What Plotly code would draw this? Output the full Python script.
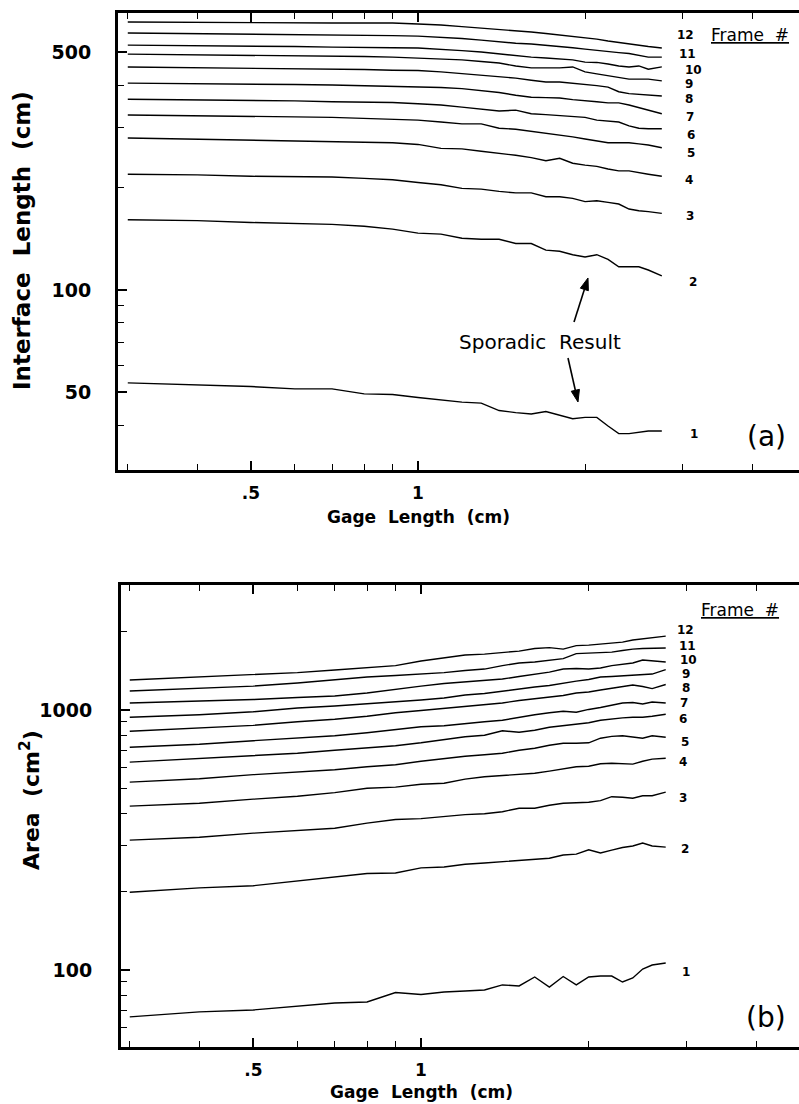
import numpy as np
import plotly.graph_objects as go

W, H = 799, 1104

# ---------------- data ----------------
gage_cm = [0.30, 0.40, 0.50, 0.60, 0.70, 0.80, 0.90, 1.00, 1.10, 1.20, 1.30, 1.40, 1.50,
           1.60, 1.70, 1.80, 1.90, 2.00, 2.10, 2.20, 2.30, 2.40, 2.50, 2.60, 2.75]

# (a) Interface length (cm), frames 1..12
len_f1 = [53.3, 52.6, 52.0, 51.2, 51.2, 49.5, 49.3, 48.3, 47.5, 46.8, 46.5, 44.2, 43.6,
          43.2, 43.9, 42.9, 41.8, 42.2, 42.2, 39.8, 37.8, 37.8, 38.2, 38.5, 38.5]
len_f2 = [161, 160, 158, 157, 156, 154, 151, 147, 146, 142, 141, 141, 137,
          137, 131, 130, 127, 125, 127, 123, 117, 117, 117, 114.5, 110]
len_f3 = [219, 218, 216, 216, 215, 213, 211, 207, 204, 199, 198, 195, 193,
          193, 188, 188, 186, 182, 183, 181, 179, 173, 171, 170, 168]
len_f4 = [280, 278, 276, 274, 273, 272, 271, 268, 261, 260, 256, 253, 249,
          245, 240, 244, 236, 233, 231, 227, 224, 224, 222, 219, 216]
len_f5 = [327, 326, 325, 323, 322, 320, 318, 316, 312, 308, 308, 299, 297,
          293, 288, 286, 282, 278, 275, 271, 271, 271, 269, 267, 262]
len_f6 = [364, 363, 362, 360, 358, 357, 356, 353, 350, 345, 341, 336, 338,
          330, 328, 326, 324, 322, 316, 314, 312, 304, 299, 298, 298]
len_f7 = [406, 405, 403, 402, 401, 399, 398, 397, 394, 391, 385, 381, 374,
          369, 368, 367, 363, 361, 358, 355, 355, 350, 344, 338, 330]
len_f8 = [453, 451, 450, 448, 446, 445, 443, 442, 438, 433, 429, 426, 420,
          414, 409, 409, 406, 403, 399, 395, 383, 378, 376, 374, 372]
len_f9 = [494, 492, 491, 489, 488, 486, 484, 481, 478, 475, 470, 465, 456,
          450, 450, 450, 453, 438, 432, 427, 423, 417, 417, 417, 412]
len_f10 = [525, 524, 522, 520, 518, 518, 516, 515, 511, 506, 501, 494, 488,
           484, 481, 478, 475, 468, 467, 462, 456, 453, 456, 446, 453]
len_f11 = [570, 568, 566, 564, 562, 562, 560, 558, 554, 549, 543, 536, 532,
           529, 525, 520, 516, 511, 506, 503, 499, 496, 491, 484, 484]
len_f12 = [614, 612, 610, 610, 610, 610, 610, 606, 602, 595, 589, 585, 581,
           574, 568, 562, 558, 551, 547, 540, 534, 529, 524, 520, 515]

# (b) Area (cm^2), frames 1..12
area_f1 = [66.0, 69.0, 70.2, 72.7, 74.7, 75.3, 81.9, 80.5, 82.3, 83.0, 83.8, 87.6, 86.8,
           94.0, 86.0, 94.4, 87.6, 94.0, 94.8, 94.8, 89.9, 93.2, 100.9, 104.5, 106.4]
area_f2 = [199, 207, 211, 220, 228, 235, 236, 247, 249, 255, 258, 261, 263,
           265, 269, 277, 279, 290, 282, 289, 296, 300, 308, 300, 297]
area_f3 = [316, 324, 336, 345, 351, 367, 379, 382, 389, 396, 399, 406, 419,
           419, 430, 438, 440, 442, 448, 464, 462, 458, 468, 468, 483]
area_f4 = [427, 438, 454, 466, 481, 500, 505, 518, 523, 542, 554, 561, 566,
           571, 582, 592, 605, 608, 621, 624, 621, 619, 635, 647, 652]
area_f5 = [528, 544, 564, 576, 589, 605, 616, 635, 652, 664, 673, 682, 700,
           713, 732, 745, 745, 748, 779, 792, 796, 786, 779, 796, 786]
area_f6 = [630, 652, 670, 682, 700, 713, 729, 748, 768, 789, 800, 832, 821,
           836, 858, 870, 881, 893, 913, 925, 933, 938, 938, 946, 963]
area_f7 = [719, 738, 762, 782, 796, 817, 839, 862, 870, 889, 901, 913, 938,
           959, 976, 989, 980, 1005, 1022, 1045, 1064, 1069, 1055, 1073, 1064]
area_f8 = [828, 851, 873, 901, 921, 946, 976, 996, 1013, 1032, 1050, 1064, 1088,
           1107, 1127, 1137, 1162, 1173, 1194, 1215, 1231, 1247, 1231, 1209, 1253]
area_f9 = [938, 959, 984, 1018, 1036, 1055, 1078, 1093, 1112, 1142, 1157, 1183, 1209,
           1226, 1242, 1270, 1292, 1310, 1339, 1345, 1351, 1363, 1369, 1375, 1431]
area_f10 = [1064, 1083, 1097, 1117, 1132, 1162, 1204, 1236, 1264, 1281, 1298, 1316, 1345,
            1369, 1399, 1437, 1444, 1437, 1450, 1482, 1502, 1516, 1556, 1549, 1529]
area_f11 = [1183, 1209, 1236, 1270, 1304, 1339, 1357, 1375, 1393, 1418, 1437, 1482, 1516,
            1529, 1556, 1577, 1648, 1656, 1656, 1670, 1693, 1715, 1723, 1723, 1731]
area_f12 = [1304, 1339, 1369, 1393, 1425, 1450, 1482, 1543, 1584, 1627, 1641, 1663, 1685,
            1723, 1738, 1715, 1769, 1777, 1793, 1801, 1825, 1858, 1874, 1891, 1924]

frame_names = ["1", "2", "3", "4", "5", "6", "7", "8", "9", "10", "11", "12"]

x_major_vals = [0.5, 1]
x_major_text = [".5", "1"]
x_minor_vals = [0.3, 0.4, 0.6, 0.7, 0.8, 0.9, 2, 3, 4]
ya_major_vals = [50, 100, 500]
ya_major_text = ["50", "100", "500"]
ya_minor_vals = [40, 60, 70, 80, 90, 200, 300, 400]
yb_major_vals = [100, 1000]
yb_major_text = ["100", "1000"]
yb_minor_vals = [60, 70, 80, 90, 200, 300, 400, 500, 600, 700, 800, 900, 2000]

interface_series = [len_f1, len_f2, len_f3, len_f4, len_f5, len_f6,
                    len_f7, len_f8, len_f9, len_f10, len_f11, len_f12]
area_series = [area_f1, area_f2, area_f3, area_f4, area_f5, area_f6,
               area_f7, area_f8, area_f9, area_f10, area_f11, area_f12]

# ---------------- layout helpers ----------------
def px(x):
    return x / W


def py(y):
    return 1 - y / H


fig = go.Figure()
line_style = dict(color="black", width=1.4)
for name, vals in zip(frame_names, interface_series):
    fig.add_trace(go.Scatter(x=gage_cm, y=vals, mode="lines", line=line_style,
                             name="Frame " + name, showlegend=False,
                             xaxis="x", yaxis="y", hoverinfo="skip"))
for name, vals in zip(frame_names, area_series):
    fig.add_trace(go.Scatter(x=gage_cm, y=vals, mode="lines", line=line_style,
                             name="Frame " + name, showlegend=False,
                             xaxis="x2", yaxis="y2", hoverinfo="skip"))

tick_font_x = dict(family="DejaVu Sans", size=17, color="black", weight="bold")


def xaxis_cfg(domain_left, rng, anchor):
    return dict(type="log", range=rng, domain=[domain_left, 1], anchor=anchor,
                showline=True, linewidth=3, linecolor="black", mirror="ticks",
                ticks="inside", ticklen=9, tickwidth=1.5, tickcolor="black",
                tickmode="array", tickvals=x_major_vals, ticktext=x_major_text,
                tickfont=tick_font_x, ticklabelstandoff=6,
                minor=dict(tickmode="array", tickvals=x_minor_vals, ticks="inside",
                           ticklen=6, tickwidth=1.2, tickcolor="black", showgrid=False),
                showgrid=False, zeroline=False, fixedrange=True)


def yaxis_cfg(domain, rng, anchor, majv, majt, minv, fsize, standoff):
    return dict(type="log", range=rng, domain=domain, anchor=anchor,
                showline=True, linewidth=3, linecolor="black", mirror=False,
                ticks="inside", ticklen=9, tickwidth=1.5, tickcolor="black",
                tickmode="array", tickvals=majv, ticktext=majt,
                tickfont=dict(family="DejaVu Sans", size=fsize, color="black", weight="bold"),
                ticklabelstandoff=standoff,
                minor=dict(tickmode="array", tickvals=minv, ticks="inside",
                           ticklen=6, tickwidth=1.2, tickcolor="black", showgrid=False),
                showgrid=False, zeroline=False, fixedrange=True)


fig.update_layout(
    width=W, height=H,
    margin=dict(l=0, r=0, t=0, b=0),
    paper_bgcolor="white", plot_bgcolor="white",
    showlegend=False,
    xaxis=xaxis_cfg(px(118), [-0.5405, 0.6865], "y"),
    yaxis=yaxis_cfg([py(470), py(13)], [1.4706, 2.8147], "x",
                    ya_major_vals, ya_major_text, ya_minor_vals, 19, 20),
    xaxis2=xaxis_cfg(px(121), [-0.5386, 0.6786], "y2"),
    yaxis2=yaxis_cfg([py(1047), py(585)], [1.7038, 3.4808], "x2",
                     yb_major_vals, yb_major_text, yb_minor_vals, 19, 22),
)

ann = []


def text_at(x, y, text, size, bold=False, angle=0, family="DejaVu Sans", pad=1):
    ann.append(dict(xref="paper", yref="paper", x=px(x), y=py(y), text=text,
                    showarrow=False, xanchor="center", yanchor="middle",
                    textangle=angle, borderpad=pad,
                    font=dict(family=family, size=size, color="black",
                              weight="bold" if bold else "normal")))


# axis titles
text_at(22, 241, "Interface  Length  (cm)", 23, bold=True, angle=-90)
text_at(418, 517, "Gage  Length  (cm)", 17, bold=True)
text_at(30, 800, "Area  (cm<sup>2</sup>)", 22, bold=True, angle=-90)
text_at(421, 1092, "Gage  Length  (cm)", 17, bold=True)

# Frame # headers
text_at(750, 35, "<u>Frame  #</u>", 17)
text_at(740, 610, "<u>Frame  #</u>", 17)

# panel tags
text_at(766, 436, "(a)", 28)
text_at(766, 1017, "(b)", 28)

# frame numbers
top_label_xy = [(694, 434), (693, 282), (690, 216), (689, 180), (691, 153), (691, 135),
                (690, 117), (689, 99), (689, 84), (693, 70), (687, 54), (685, 35)]
bot_label_xy = [(686, 972), (685, 849), (683, 798), (683, 762), (685, 742), (683, 719),
                (684, 703), (686, 688), (686, 674), (688, 660), (687, 646), (685, 630)]
for name, (lx, ly) in zip(frame_names, top_label_xy):
    text_at(lx, ly, name, 12, bold=True, pad=0)
for name, (lx, ly) in zip(frame_names, bot_label_xy):
    text_at(lx, ly, name, 12, bold=True, pad=0)

# Sporadic result label
text_at(540, 342, "Sporadic  Result", 20)

fig.update_layout(annotations=ann)

# arrows drawn as shapes (shaft + filled head), placed in pixel space of the page
shapes = []


def arrow(tail, tip, head_len=12.0, head_half=4.2):
    tx, ty = tail
    hx, hy = tip
    dx, dy = hx - tx, hy - ty
    n = (dx * dx + dy * dy) ** 0.5
    ux, uy = dx / n, dy / n
    bx, by = hx - head_len * ux, hy - head_len * uy
    nx, ny = -uy, ux
    shapes.append(dict(type="line", xref="paper", yref="paper",
                       x0=px(tx), y0=py(ty), x1=px(bx), y1=py(by),
                       line=dict(color="black", width=1.6)))
    p1 = (bx + head_half * nx, by + head_half * ny)
    p2 = (bx - head_half * nx, by - head_half * ny)
    path = "M {:.5f} {:.5f} L {:.5f} {:.5f} L {:.5f} {:.5f} Z".format(
        px(hx), py(hy), px(p1[0]), py(p1[1]), px(p2[0]), py(p2[1]))
    shapes.append(dict(type="path", xref="paper", yref="paper", path=path,
                       fillcolor="black", line=dict(color="black", width=1)))


arrow((574, 322), (588, 278))
arrow((568, 358), (578, 402))
fig.update_layout(shapes=shapes)

fig.write_html("out.html")
